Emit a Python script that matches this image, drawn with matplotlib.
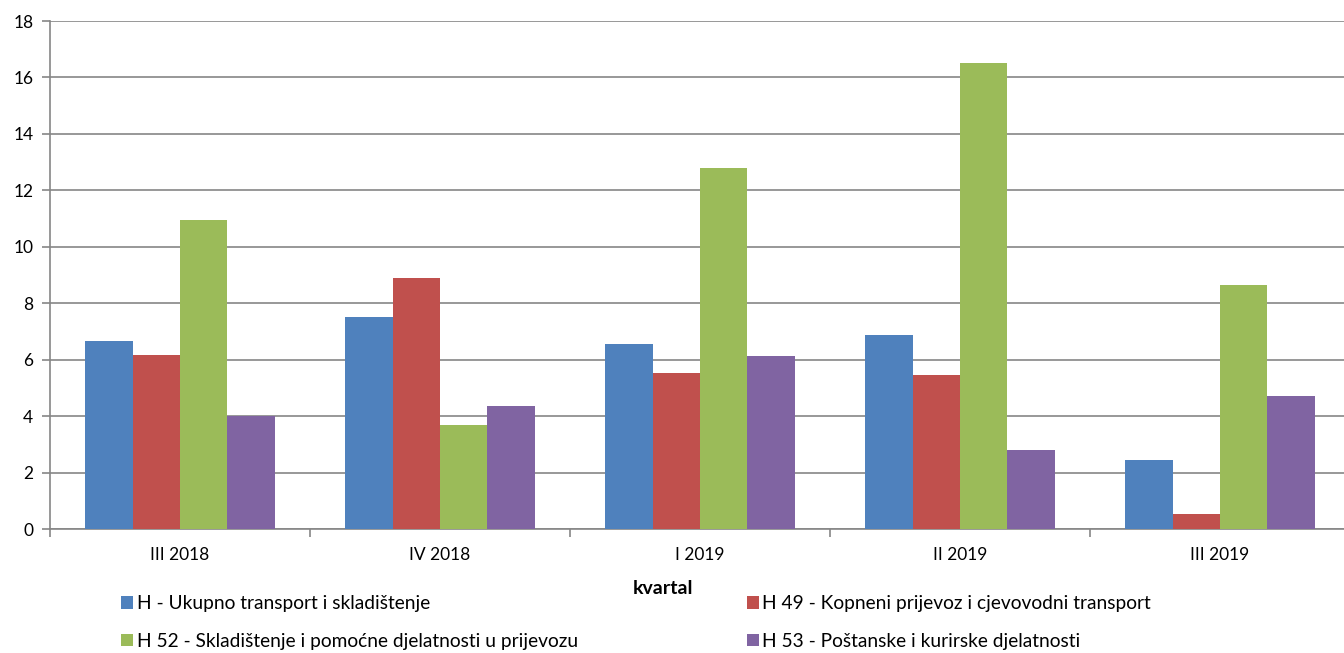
import matplotlib
matplotlib.use('Agg')
import matplotlib.pyplot as plt
import numpy as np

plt.rcParams['font.family'] = ['Lato', 'DejaVu Sans']

# podaci
kvartali = ['III 2018', 'IV 2018', 'I 2019', 'II 2019', 'III 2019']
serije = ['H - Ukupno transport i skladištenje',
          'H 49 - Kopneni prijevoz i cjevovodni transport',
          'H 52 - Skladištenje i pomoćne djelatnosti u prijevozu',
          'H 53 - Poštanske i kurirske djelatnosti']
h_ukupno = [6.66, 7.51, 6.56, 6.87, 2.45]
h49 = [6.17, 8.89, 5.53, 5.46, 0.53]
h52 = [10.95, 3.69, 12.79, 16.51, 8.65]
h53 = [4.00, 4.36, 6.13, 2.80, 4.71]

boje = ['#4F81BD', '#C0504D', '#9BBB59', '#8064A2']

fig = plt.figure(figsize=(13.44, 6.53), dpi=100)
# os ide malo preko desnog ruba kao u originalu
ax = fig.add_axes([50/1344, 124/653, 1300/1344, 508/653])

x = np.arange(len(kvartali))
w = 0.182
rukohvati = []
for i, (vals, boja) in enumerate(zip([h_ukupno, h49, h52, h53], boje)):
    b = ax.bar(x + (i - 1.5) * w, vals, w, color=boja, label=serije[i], zorder=3)
    rukohvati.append(b)

ax.set_xlim(-0.5, len(kvartali) - 0.5)
ax.set_ylim(0, 18)
ax.set_yticks(range(0, 19, 2))
ax.grid(axis='y', color='#868686', linewidth=1.2, zorder=0)
for s in ['top', 'right']:
    ax.spines[s].set_visible(False)
for s in ['left', 'bottom']:
    ax.spines[s].set_color('#868686')
    ax.spines[s].set_linewidth(1.2)

ax.set_xticks(x)
ax.set_xticklabels(kvartali, fontsize=12.5)
ax.tick_params(axis='x', length=0, pad=13)
ax.set_xticks(np.arange(-0.5, len(kvartali)), minor=True)
ax.tick_params(axis='x', which='minor', length=6, color='#868686', width=1.2)
ax.tick_params(axis='y', labelsize=12.5, length=6, color='#868686', width=1.2, pad=6)

fig.text(663/1344, 1 - 588/653, 'kvartal', fontsize=14, fontweight='bold', ha='center', va='center')

poredak = [0, 2, 1, 3]
fig.legend([rukohvati[i] for i in poredak], [serije[i] for i in poredak],
           ncol=2, loc='upper left', bbox_to_anchor=(104/1344, 1 - 578/653),
           frameon=False, fontsize=13.8, handlelength=0.62, handleheight=0.62,
           handletextpad=0.2, columnspacing=8.8, labelspacing=1.08)

plt.savefig('out.png', dpi=100)
plt.close()
